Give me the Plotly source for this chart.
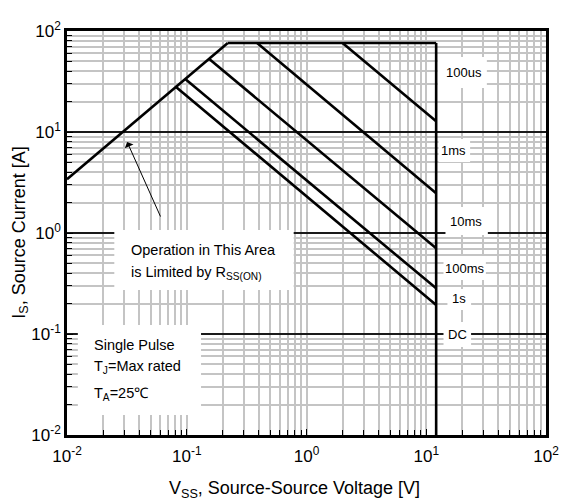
import numpy as np
import plotly.graph_objects as go

# ---- data ----
rds_v = [0.01, 0.22]
rds_i = [3.4, 76.0]
imax_v = [0.22, 12.1]
imax_i = [76.0, 76.0]
vmax_v = [12.1, 12.1]
vmax_i = [76.0, 0.01]
us100_v = [2.0, 12.1]
us100_i = [76.0, 12.8]
ms1_v = [0.387, 12.1]
ms1_i = [76.0, 2.47]
ms10_v = [0.155, 12.1]
ms10_i = [52.5, 0.705]
ms100_v = [0.0977, 12.1]
ms100_i = [33.2, 0.283]
s1_v = [0.0809, 12.1]
s1_i = [28.1, 0.194]

series = [
    (rds_v, rds_i), (imax_v, imax_i), (vmax_v, vmax_i),
    (us100_v, us100_i), (ms1_v, ms1_i), (ms10_v, ms10_i),
    (ms100_v, ms100_i), (s1_v, s1_i),
]

decades = [-2, -1, 0, 1, 2]
tick_vals = [10.0 ** d for d in decades]
tick_text = ["10<sup>%d</sup>" % d for d in decades]
minor_vals = [m * 10.0 ** d for d in decades[:-1] for m in range(2, 10)]

W, H = 571, 504
L, R, T, B = 67, 553, 31, 435   # plot area in pixels


def xp(px):
    return (px - L) / (R - L)


def yp(py):
    return (B - py) / (B - T)


def xd(px):
    return 10 ** (-2 + 4 * xp(px))


def yd(py):
    return 10 ** (-2 + 4 * yp(py))


fig = go.Figure()
for v, i in series:
    fig.add_trace(go.Scatter(x=v, y=i, mode="lines",
                             line=dict(color="black", width=2.6),
                             showlegend=False, hoverinfo="skip"))

FONT = "Liberation Sans, Arial, sans-serif"

axis_common = dict(
    type="log", showline=True, mirror=True, linecolor="black", linewidth=2.5,
    ticks="inside", ticklen=6, tickcolor="black", tickwidth=1,
    tickvals=tick_vals, ticktext=tick_text,
    tickfont=dict(family=FONT, size=17, color="black"),
    minor=dict(tickvals=minor_vals, ticks="inside", ticklen=5,
               tickcolor="black", tickwidth=1, showgrid=True,
               gridcolor="#c4c4c4", gridwidth=2),
    zeroline=False,
)

fig.update_xaxes(**axis_common, range=[-2, 2], showgrid=True,
                 gridcolor="#c4c4c4", gridwidth=2, ticklabelstandoff=4)
fig.update_yaxes(**axis_common, range=[-2, 2], showgrid=True,
                 gridcolor="#1a1a1a", gridwidth=1.6)

# white boxes masking the grid (between grid and traces)
boxes = [
    (443, 57, 493, 88),     # 100us
    (444, 139, 476, 162),   # 1ms
    (451, 207, 494, 235),   # 10ms
    (449, 256, 492, 280),   # 100ms
    (453, 289, 477, 310),   # 1s
    (449, 322, 477, 347),   # DC
    (115, 230, 297, 290),   # operation box
    (78, 325, 203, 415),    # single pulse box
]
for x0, y0, x1, y1 in boxes:
    fig.add_shape(type="rect", xref="x", yref="y",
                  x0=xd(x0), x1=xd(x1), y0=yd(y1), y1=yd(y0),
                  fillcolor="white", line=dict(width=0), layer="between")

labels = [
    ("100us", 470, 72),
    ("1ms", 459, 150),
    ("10ms", 472, 221),
    ("100ms", 471, 268),
    ("1s", 465, 299),
    ("DC", 463, 334),
]
for txt, x, y in labels:
    fig.add_annotation(text=txt, x=xp(x), y=yp(y), xref="paper", yref="paper",
                       showarrow=False, xanchor="center", yanchor="middle",
                       font=dict(family=FONT, size=13, color="black"))

left_texts = [
    ("Operation in This Area", 130, 250),
    ("is Limited by R<sub>SS(ON)</sub>", 130, 273),
    ("Single Pulse", 92, 345),
    ("T<sub>J</sub>=Max rated", 92, 367),
    ("T<sub>A</sub>=25\u2103", 92, 394),
]
for txt, x, y in left_texts:
    fig.add_annotation(text=txt, x=xp(x), y=yp(y), xref="paper", yref="paper",
                       showarrow=False, xanchor="left", yanchor="middle",
                       font=dict(family=FONT, size=14.5, color="black"))

# arrow pointing at R limit line
fig.add_annotation(x=np.log10(0.0318), y=np.log10(7.96), xref="x", yref="y",
                   text="", showarrow=True, ax=34, ay=76, axref="pixel",
                   ayref="pixel", arrowhead=1, arrowsize=1.6, arrowwidth=1,
                   arrowcolor="black", standoff=0)

# axis titles
fig.add_annotation(text="V<sub>SS</sub>, Source-Source Voltage [V]",
                   x=xp(298), y=yp(490), xref="paper", yref="paper",
                   showarrow=False, xanchor="center", yanchor="middle",
                   font=dict(family=FONT, size=18, color="black"))
fig.add_annotation(text="I<sub>S</sub>, Source Current [A]",
                   x=xp(19), y=yp(232), xref="paper", yref="paper",
                   showarrow=False, xanchor="center", yanchor="middle",
                   textangle=-90,
                   font=dict(family=FONT, size=18, color="black"))

fig.update_layout(
    width=W, height=H,
    margin=dict(l=L, r=W - R, t=T, b=H - B),
    paper_bgcolor="white", plot_bgcolor="white",
    font=dict(family=FONT, color="black"),
)

fig.write_html("out.html",
               config={"displayModeBar": False},
               post_script="document.body.style.margin='0px';")
